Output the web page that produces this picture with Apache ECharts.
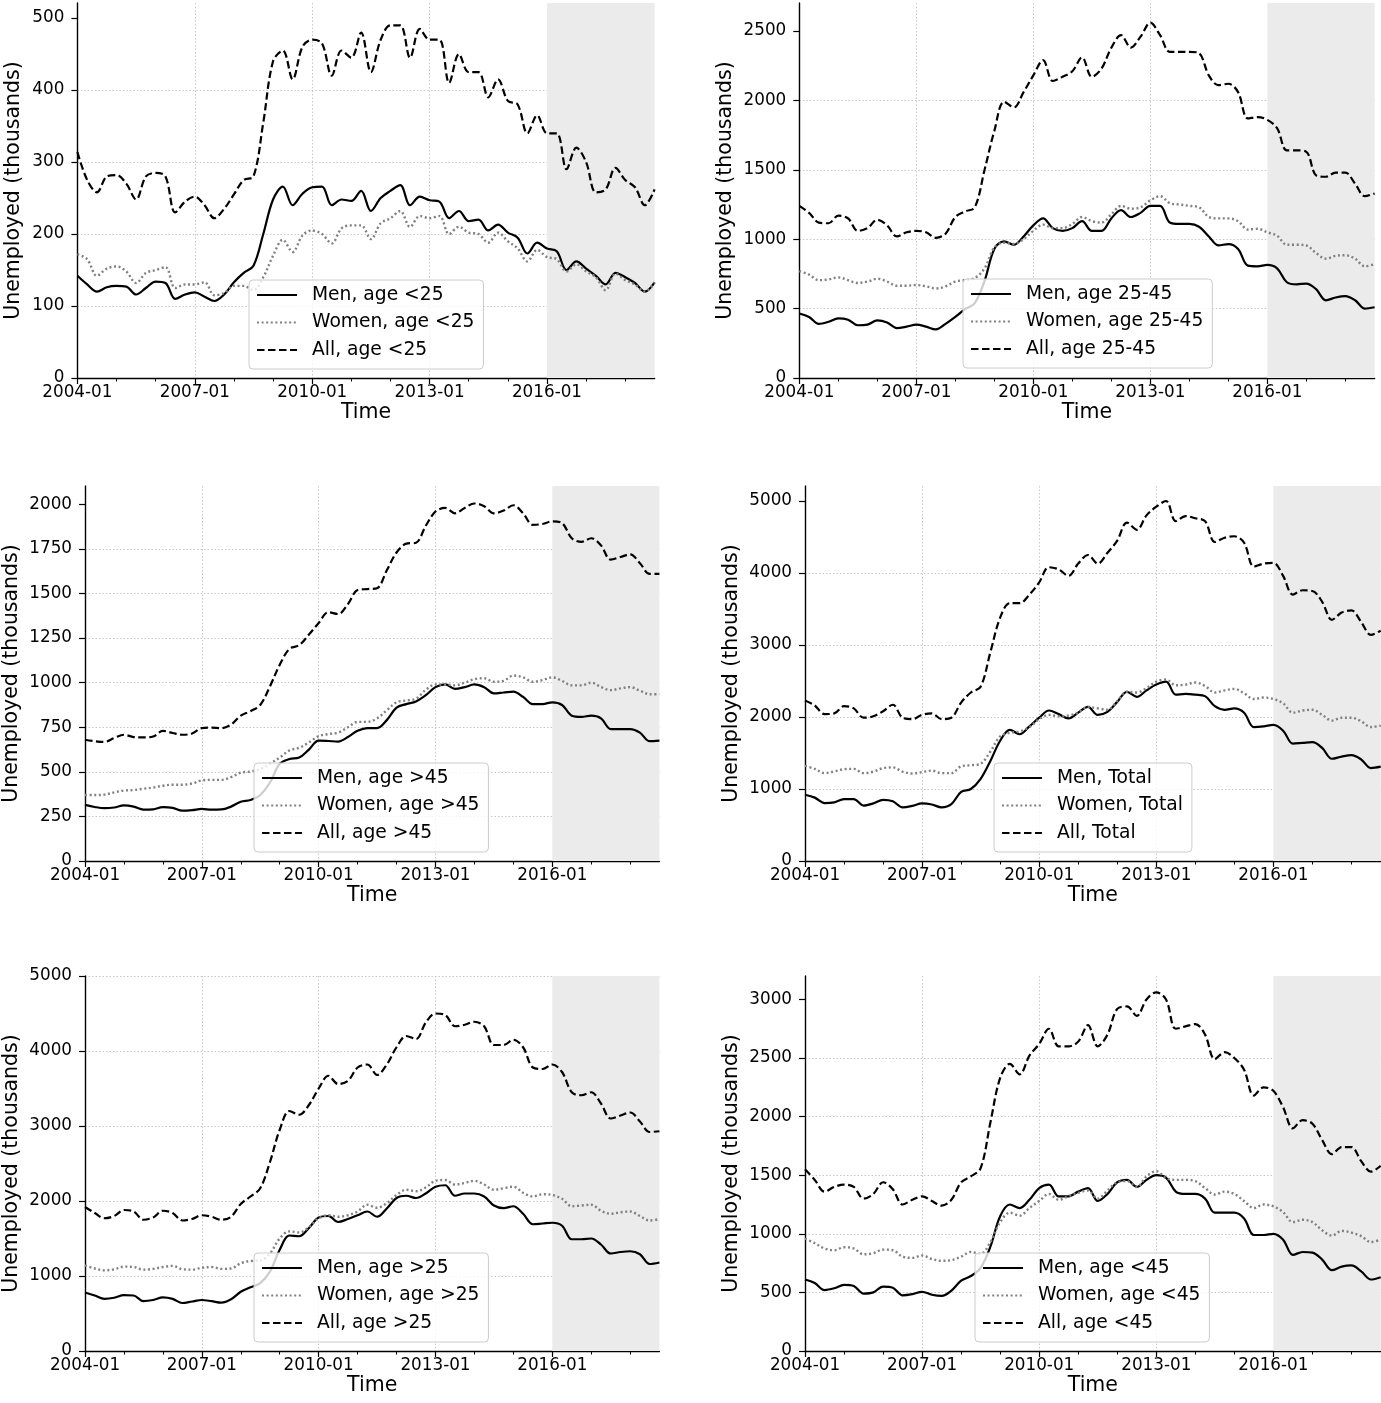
<!DOCTYPE html>
<html>
<head>
<meta charset="utf-8">
<script src="https://cdn.jsdelivr.net/npm/echarts@6/dist/echarts.min.js"></script>
<style>
html,body{margin:0;padding:0;background:#ffffff;}
#chart{width:1381px;height:1403px;}
</style>
</head>
<body>
<div id="chart"></div>
<script>
// ---------- Data (quarterly readings, 2004-01 .. 2018-10, thousands) ----------
const firstPeriod = '2004-01';
const sampleStepMonths = 3;
const xTickLabels = ['2004-01', '2007-01', '2010-01', '2013-01', '2016-01'];
const xMinorTickLabels = ['2005-01','2006-01','2008-01','2009-01','2011-01','2012-01','2014-01','2015-01','2017-01','2018-01'];
const shadedFrom = '2016-01';
const lastPeriod = '2018-10';

const namesU25   = ['Men, age <25', 'Women, age <25', 'All, age <25'];
const names2545  = ['Men, age 25-45', 'Women, age 25-45', 'All, age 25-45'];
const namesO45   = ['Men, age >45', 'Women, age >45', 'All, age >45'];
const namesTotal = ['Men, Total', 'Women, Total', 'All, Total'];
const namesO25   = ['Men, age >25', 'Women, age >25', 'All, age >25'];
const namesU45   = ['Men, age <45', 'Women, age <45', 'All, age <45'];

const menU25   = [142,130,120,126,128,127,116,125,134,132,110,116,119,113,107,116,133,146,156,200,248,266,240,256,265,266,240,248,246,260,232,250,260,268,240,252,247,245,222,232,218,220,205,213,202,195,173,188,180,176,150,162,152,142,130,146,140,132,120,133];
const womenU25 = [172,165,142,152,155,148,132,146,150,154,125,130,130,133,115,118,128,128,122,140,170,192,175,198,205,200,187,208,212,212,193,215,222,232,210,225,222,225,200,210,202,200,188,202,190,180,162,178,168,165,148,158,148,140,122,145,136,130,120,133];
const allU25   = [314,275,258,280,282,270,248,280,285,280,230,245,252,240,222,235,255,275,280,355,440,455,415,460,470,465,420,455,445,480,425,470,490,490,445,485,470,470,410,450,425,425,390,415,385,380,340,365,340,340,290,320,300,258,262,292,275,265,240,262];

const men2545   = [465,440,390,405,430,420,380,385,415,400,360,370,385,370,350,390,440,497,540,700,930,985,960,1020,1100,1150,1080,1060,1080,1130,1060,1060,1150,1210,1160,1190,1240,1240,1120,1110,1110,1090,1020,955,965,930,810,805,815,790,690,675,680,640,560,580,590,560,500,510];
const women2545 = [770,745,705,710,725,705,685,695,715,695,665,665,670,660,645,660,695,705,720,790,940,975,965,1000,1060,1105,1080,1080,1110,1160,1130,1120,1180,1240,1220,1230,1280,1310,1260,1250,1240,1230,1160,1150,1150,1130,1070,1075,1050,1025,960,960,955,900,860,880,885,860,805,820];
const all2545   = [1240,1190,1120,1115,1170,1150,1060,1080,1140,1100,1020,1050,1060,1050,1010,1040,1160,1200,1230,1500,1780,1990,1950,2060,2180,2290,2140,2170,2210,2310,2170,2230,2380,2470,2380,2460,2560,2470,2350,2350,2350,2340,2180,2110,2120,2060,1870,1880,1860,1800,1640,1640,1630,1460,1450,1480,1480,1400,1310,1330];

const menO45   = [315,303,296,300,312,305,288,290,302,298,282,285,292,288,289,305,332,342,370,440,545,572,580,625,675,673,670,695,730,745,745,790,860,880,895,930,975,990,965,975,990,975,940,945,950,920,880,880,890,875,815,808,815,800,740,740,740,720,672,675];
const womenO45 = [370,370,372,385,395,398,405,412,422,428,428,435,452,455,455,470,495,502,515,545,580,620,635,665,700,712,720,750,780,780,800,845,890,900,910,960,990,990,985,1000,1020,1025,1005,1010,1040,1030,1005,1015,1030,1010,985,985,1000,975,958,968,975,955,935,935];
const allO45   = [680,672,668,690,708,695,693,698,730,718,708,715,745,748,745,765,815,840,875,980,1100,1190,1210,1270,1335,1395,1385,1440,1520,1525,1530,1630,1730,1780,1785,1880,1960,1980,1950,1980,2005,1990,1950,1965,1995,1950,1885,1890,1905,1895,1810,1790,1810,1770,1690,1705,1720,1670,1610,1610];

const menTotal   = [920,880,805,815,860,860,770,800,850,830,745,765,800,785,745,790,960,1000,1140,1390,1670,1820,1760,1870,1990,2090,2040,1980,2060,2140,2030,2070,2210,2350,2280,2370,2450,2490,2310,2320,2310,2290,2150,2100,2120,2060,1860,1870,1890,1810,1630,1640,1650,1570,1420,1450,1470,1410,1290,1310];
const womenTotal = [1320,1280,1220,1245,1275,1280,1220,1240,1290,1300,1240,1215,1235,1255,1220,1220,1315,1330,1350,1520,1730,1780,1800,1860,1970,2030,2010,2020,2060,2140,2120,2100,2220,2350,2340,2400,2490,2520,2440,2450,2480,2430,2340,2370,2390,2330,2250,2270,2250,2190,2060,2090,2100,2030,1950,1990,1990,1940,1860,1880];
const allTotal   = [2230,2160,2040,2050,2150,2120,1990,2010,2080,2170,1990,1970,2030,2050,1970,1990,2200,2340,2420,2900,3380,3580,3580,3700,3870,4080,4050,3960,4130,4250,4130,4280,4450,4700,4600,4800,4920,5000,4720,4790,4760,4720,4430,4490,4510,4420,4090,4130,4140,3960,3700,3760,3750,3600,3350,3450,3480,3320,3140,3200];

const menO25   = [780,740,695,710,745,740,665,680,715,695,640,660,680,665,645,690,790,850,905,1060,1350,1540,1530,1640,1780,1800,1720,1760,1810,1860,1790,1900,2040,2070,2040,2100,2190,2210,2070,2100,2100,2060,1940,1905,1930,1830,1690,1700,1710,1670,1490,1490,1500,1420,1300,1320,1330,1290,1160,1180];
const womenO25 = [1140,1100,1075,1090,1125,1120,1085,1095,1120,1135,1090,1085,1110,1120,1095,1100,1170,1200,1205,1300,1500,1595,1580,1650,1770,1810,1790,1810,1860,1950,1910,1970,2080,2150,2130,2180,2270,2280,2220,2240,2270,2220,2150,2170,2190,2110,2060,2090,2080,2030,1930,1940,1950,1870,1830,1850,1860,1800,1740,1760];
const allO25   = [1920,1840,1770,1800,1880,1860,1750,1780,1870,1840,1740,1760,1810,1790,1750,1790,1960,2060,2170,2520,2950,3200,3150,3280,3500,3670,3560,3600,3780,3820,3680,3820,4050,4200,4160,4380,4500,4480,4330,4350,4390,4330,4080,4080,4150,4050,3780,3760,3820,3720,3450,3410,3450,3300,3100,3140,3180,3060,2920,2930];

const menU45   = [610,580,520,535,565,555,490,500,550,540,475,485,505,480,470,515,600,640,710,890,1150,1250,1220,1290,1390,1420,1320,1320,1360,1390,1280,1340,1440,1460,1400,1460,1500,1480,1360,1340,1340,1300,1180,1180,1180,1130,990,990,1000,950,820,845,840,780,690,720,730,680,610,630];
const womenU45 = [960,920,875,860,885,875,825,835,865,860,805,795,815,785,770,775,805,845,830,930,1100,1180,1155,1220,1280,1340,1290,1320,1350,1370,1300,1370,1440,1450,1400,1490,1535,1475,1460,1460,1450,1390,1335,1360,1340,1280,1220,1250,1235,1185,1100,1120,1100,1030,985,1025,1010,980,930,950];
const allU45   = [1550,1460,1360,1400,1420,1400,1300,1340,1440,1380,1250,1290,1320,1280,1240,1290,1440,1490,1560,1950,2330,2450,2360,2520,2620,2750,2600,2600,2640,2780,2600,2700,2920,2940,2860,3000,3060,3000,2750,2770,2790,2700,2490,2550,2500,2400,2180,2250,2220,2080,1900,1970,1940,1800,1680,1740,1740,1620,1530,1580];

// ---------- Helpers ----------
function monthIndex(label) {
  const [y, m] = label.split('-').map(Number);
  const [y0, m0] = firstPeriod.split('-').map(Number);
  return (y - y0) * 12 + (m - m0);
}
function monthLabel(idx) {
  const [y0, m0] = firstPeriod.split('-').map(Number);
  const t = (m0 - 1) + Math.round(idx);
  const y = y0 + Math.floor(t / 12);
  const m = (t % 12) + 1;
  return y + '-' + String(m).padStart(2, '0');
}
const xMax = monthIndex(lastPeriod);
const majorTicks = xTickLabels.map(monthIndex);
const minorTicks = xMinorTickLabels.map(monthIndex);
const shadeStart = monthIndex(shadedFrom);

// ---------- Layout / style (not data) ----------
const FONT = 'DejaVu Sans';
const panels = [
  { names: namesU25,   data: [menU25, womenU25, allU25],       grid: {left: 77.4, top: 3,   width: 577.2, height: 375}, yMax: 521,  yInt: 100,  nameGap: 53, legend: {left: 249, top: 280} },
  { names: names2545,  data: [men2545, women2545, all2545],    grid: {left: 799.3, top: 3,  width: 575.3, height: 375}, yMax: 2702, yInt: 500,  nameGap: 63, legend: {left: 963, top: 279} },
  { names: namesO45,   data: [menO45, womenO45, allO45],       grid: {left: 83.3, top: 486, width: 576.1, height: 375}, yMax: 2103, yInt: 250,  nameGap: 63, legend: {left: 254, top: 763} },
  { names: namesTotal, data: [menTotal, womenTotal, allTotal], grid: {left: 805, top: 486,  width: 575.7, height: 375}, yMax: 5208, yInt: 1000, nameGap: 63, legend: {left: 994, top: 763} },
  { names: namesO25,   data: [menO25, womenO25, allO25],       grid: {left: 83.3, top: 976, width: 576.1, height: 375}, yMax: 5000, yInt: 1000, nameGap: 63, legend: {left: 254, top: 1253} },
  { names: namesU45,   data: [menU45, womenU45, allU45],       grid: {left: 805, top: 976,  width: 575.7, height: 375}, yMax: 3200, yInt: 500,  nameGap: 63, legend: {left: 975, top: 1253} }
];
const lineStyles = [
  {color: '#000000', width: 2.2, type: 'solid'},
  {color: '#808080', width: 2.4, type: [2, 2.6]},
  {color: '#000000', width: 2.2, type: [7.5, 3.5]}
];
const gridLineStyle = {color: '#c8c8c8', width: 1, type: [1.5, 2]};

const grids = [], xAxes = [], yAxes = [], series = [], legends = [];
panels.forEach((p, gi) => {
  grids.push(Object.assign({}, p.grid));
  const yTicks = [];
  for (let v = 0; v <= p.yMax + 1e-9; v += p.yInt) yTicks.push(v);
  xAxes.push({
    type: 'value', gridIndex: gi, min: 0, max: xMax, interval: 36, position: 'bottom',
    name: 'Time', nameLocation: 'middle', nameGap: 21,
    nameTextStyle: {fontFamily: FONT, fontSize: 20.5, color: '#000'},
    axisLine: {show: true, onZero: false, lineStyle: {color: '#000', width: 1.4}},
    axisTick: {show: true, inside: false, length: 6, customValues: majorTicks, lineStyle: {color: '#000', width: 1.2}},
    axisLabel: {show: true, customValues: majorTicks, margin: 6, fontFamily: FONT, fontSize: 16.8, color: '#000', formatter: v => monthLabel(v)},
    splitLine: {show: true, showMinLine: false, showMaxLine: false, lineStyle: gridLineStyle}
  });
  xAxes.push({
    type: 'value', gridIndex: gi, min: 0, max: xMax, position: 'bottom', offset: 0,
    axisLine: {show: false},
    axisTick: {show: true, inside: false, length: 3.5, customValues: minorTicks, lineStyle: {color: '#000', width: 1}},
    axisLabel: {show: false},
    splitLine: {show: false}
  });
  yAxes.push({
    type: 'value', gridIndex: gi, min: 0, max: p.yMax, interval: p.yInt,
    name: 'Unemployed (thousands)', nameLocation: 'middle', nameGap: p.nameGap, nameRotate: 90,
    nameTextStyle: {fontFamily: FONT, fontSize: 20.5, color: '#000'},
    axisLine: {show: true, onZero: false, lineStyle: {color: '#000', width: 1.4}},
    axisTick: {show: true, inside: false, length: 6, customValues: yTicks, lineStyle: {color: '#000', width: 1.2}},
    axisLabel: {show: true, customValues: yTicks, margin: 13, fontFamily: FONT, fontSize: 16.8, color: '#000', formatter: v => String(v)},
    splitLine: {show: true, showMinLine: false, showMaxLine: p.yMax % p.yInt === 0, lineStyle: gridLineStyle}
  });
  p.names.forEach((nm, si) => {
    const s = {
      type: 'line', name: nm, xAxisIndex: gi * 2, yAxisIndex: gi,
      data: p.data[si].map((v, i) => [i * sampleStepMonths, v]),
      symbol: 'none', showSymbol: false, smooth: 0.35, clip: true,
      lineStyle: lineStyles[si], itemStyle: {color: lineStyles[si].color},
      z: 3 + si, silent: true
    };
    if (si === 0) {
      s.markArea = {
        silent: true,
        itemStyle: {color: '#ebebeb'},
        data: [[{xAxis: shadeStart}, {xAxis: xMax}]],
        z: 1
      };
    }
    series.push(s);
  });
  legends.push({
    data: p.names, orient: 'vertical', left: p.legend.left, top: p.legend.top,
    itemWidth: 40, itemHeight: 14, itemGap: 8.5, padding: [5.5, 9, 9.5, 7],
    itemStyle: {opacity: 0, borderWidth: 0},
    backgroundColor: 'rgba(255,255,255,0.8)', borderColor: '#cccccc', borderWidth: 1, borderRadius: 4,
    textStyle: {fontFamily: FONT, fontSize: 18.7, color: '#000', lineHeight: 19, padding: [0, 0, 0, 10]},
    selectedMode: false, z: 10
  });
});

const chart = echarts.init(document.getElementById('chart'), null, {renderer: 'canvas'});
chart.setOption({
  animation: false,
  backgroundColor: '#ffffff',
  textStyle: {fontFamily: FONT},
  grid: grids, xAxis: xAxes, yAxis: yAxes, series: series, legend: legends
});
</script>
</body>
</html>
